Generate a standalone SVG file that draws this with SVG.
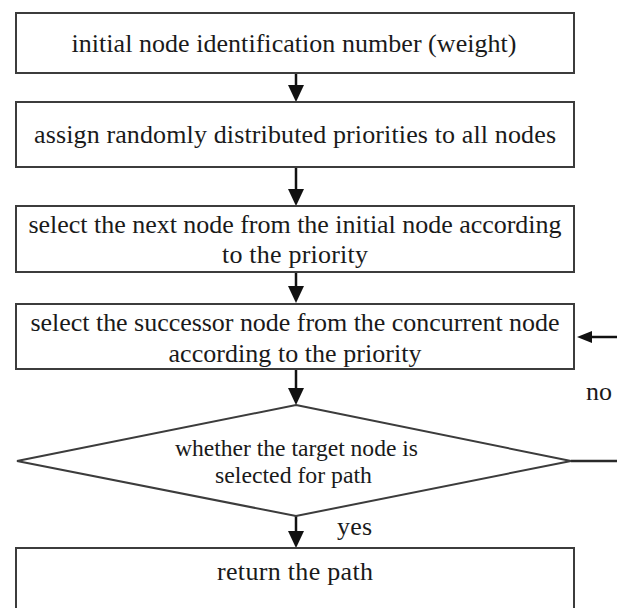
<svg xmlns="http://www.w3.org/2000/svg" width="617" height="608" viewBox="0 0 617 608">
  <style>
    .box { fill: #ffffff; stroke: #3c3c3c; stroke-width: 2; }
    .txt { font-family: "Liberation Serif", "Times New Roman", serif; font-size: 26px; fill: #1a1a1a; text-anchor: middle; }
    .dtxt { font-family: "Liberation Serif", "Times New Roman", serif; font-size: 24px; fill: #1a1a1a; text-anchor: middle; }
    .flow { fill: none; stroke: #111111; stroke-width: 2.5; }
    .edge { fill: none; stroke: #2a2a2a; stroke-width: 2.5; }
  </style>
  <defs>
    <marker id="head" markerUnits="userSpaceOnUse" markerWidth="17" markerHeight="16" viewBox="0 0 17 16" refX="7" refY="8" orient="auto">
      <path d="M0,0 L17,8 L0,16 Z" fill="#111111"/>
    </marker>
    <marker id="headSmall" markerUnits="userSpaceOnUse" markerWidth="15" markerHeight="12" viewBox="0 0 15 12" refX="6" refY="6" orient="auto">
      <path d="M0,0 L15,6 L0,12 Z" fill="#111111"/>
    </marker>
  </defs>

  <rect width="617" height="608" fill="#ffffff"/>

  <g id="connectors">
    <line class="flow" x1="296" y1="73" x2="296" y2="92" marker-end="url(#head)"/>
    <line class="flow" x1="296" y1="167" x2="296" y2="196" marker-end="url(#head)"/>
    <line class="flow" x1="296" y1="272" x2="296" y2="293" marker-end="url(#head)"/>
    <line class="flow" x1="296" y1="369" x2="296" y2="395" marker-end="url(#head)"/>
    <line class="flow" x1="296" y1="516" x2="296" y2="538" marker-end="url(#head)"/>
    <!-- "no" branch: leaves the decision to the right, re-enters the successor step -->
    <line class="edge" x1="571" y1="461" x2="617" y2="461"/>
    <line class="flow" x1="617" y1="337" x2="586" y2="337" marker-end="url(#headSmall)"/>
    <text class="txt" x="599" y="400" textLength="26" lengthAdjust="spacing">no</text>
    <text class="txt" x="354.5" y="535" textLength="35" lengthAdjust="spacing">yes</text>
  </g>

  <g id="node-init">
    <rect class="box" x="16" y="13" width="558" height="60"/>
    <text class="txt" x="294" y="52" textLength="445" lengthAdjust="spacing">initial node identification number (weight)</text>
  </g>

  <g id="node-priorities">
    <rect class="box" x="16" y="102" width="558" height="65"/>
    <text class="txt" x="295" y="143" textLength="522" lengthAdjust="spacing">assign randomly distributed priorities to all nodes</text>
  </g>

  <g id="node-next">
    <rect class="box" x="16" y="206" width="558" height="66"/>
    <text class="txt" x="295" y="233" textLength="533" lengthAdjust="spacing">select the next node from the initial node according</text>
    <text class="txt" x="295" y="263" textLength="146" lengthAdjust="spacing">to the priority</text>
  </g>

  <g id="node-successor">
    <rect class="box" x="16" y="304" width="558" height="65"/>
    <text class="txt" x="295" y="331" textLength="529" lengthAdjust="spacing">select the successor node from the concurrent node</text>
    <text class="txt" x="295" y="362" textLength="253" lengthAdjust="spacing">according to the priority</text>
  </g>

  <g id="node-decision">
    <polygon class="box" points="296,405 571,461 296,516 17,461"/>
    <text class="dtxt" x="296.5" y="456" textLength="243" lengthAdjust="spacingAndGlyphs">whether the target node is</text>
    <text class="dtxt" x="293.5" y="483" textLength="157" lengthAdjust="spacingAndGlyphs">selected for path</text>
  </g>

  <g id="node-return">
    <rect class="box" x="16" y="548" width="558" height="80"/>
    <text class="txt" x="295" y="580" textLength="156" lengthAdjust="spacing">return the path</text>
  </g>
</svg>
